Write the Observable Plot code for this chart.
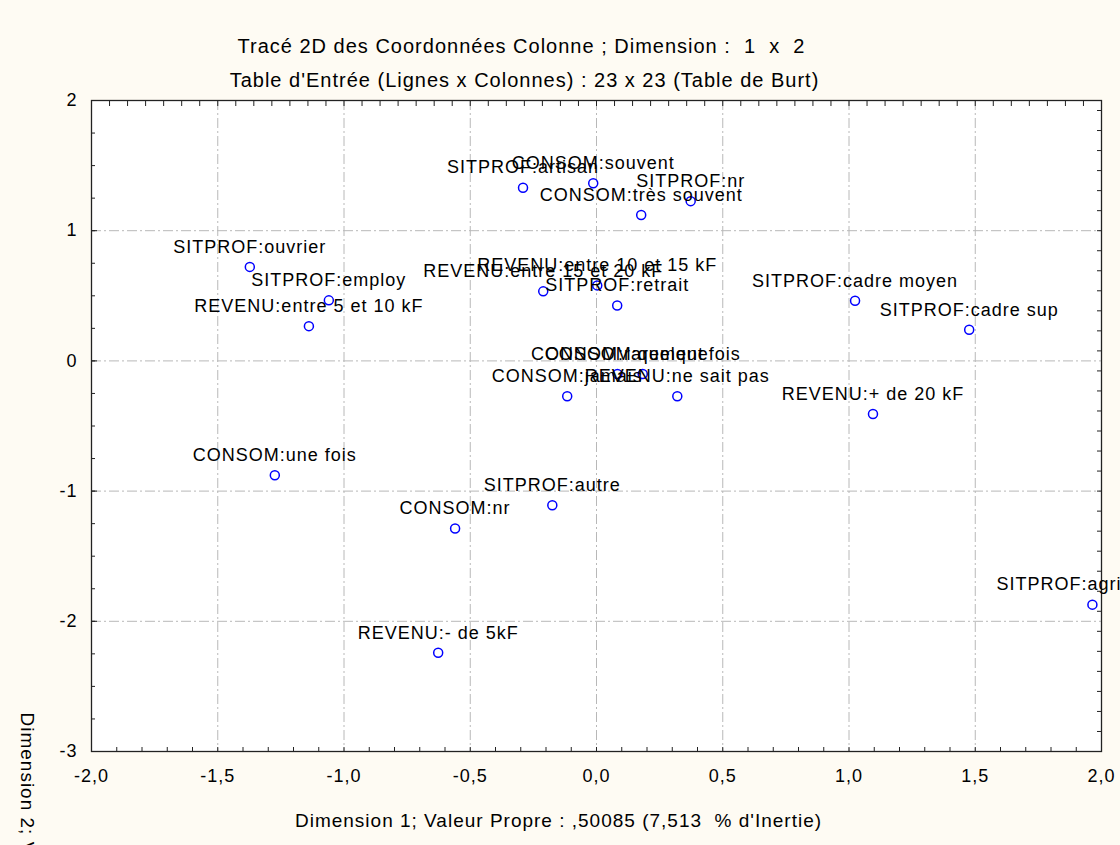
<!DOCTYPE html>
<html>
<head>
<meta charset="utf-8">
<script src="https://cdn.jsdelivr.net/npm/d3@7"></script>
<script src="https://cdn.jsdelivr.net/npm/@observablehq/plot@0.6"></script>
<style>
  html, body { margin: 0; padding: 0; background: #fefbf3; }
  #chart svg { display: block; }
</style>
</head>
<body>
<div id="chart"></div>
<script>
// ---- Data ----
const labels = [
  "SITPROF:artisan", "CONSOM:souvent", "SITPROF:nr", "CONSOM:très souvent",
  "SITPROF:ouvrier", "SITPROF:employ", "REVENU:entre 5 et 10 kF",
  "REVENU:entre 10 et 15 kF", "REVENU:entre 15 et 20 kF", "SITPROF:retrait",
  "SITPROF:cadre moyen", "SITPROF:cadre sup", "CONSOM:rarement", "CONSOM:quelquefois",
  "CONSOM:jamais", "REVENU:ne sait pas", "REVENU:+ de 20 kF", "CONSOM:une fois",
  "SITPROF:autre", "CONSOM:nr", "SITPROF:agri", "REVENU:- de 5kF"
];
const dim1 = [
  -0.291, -0.013, 0.373, 0.177,
  -1.373, -1.060, -1.139,
  0.003, -0.211, 0.082,
  1.024, 1.476, 0.083, 0.183,
  -0.116, 0.320, 1.095, -1.274,
  -0.175, -0.560, 1.964, -0.627
];
const dim2 = [
  1.330, 1.364, 1.227, 1.120,
  0.722, 0.465, 0.267,
  0.580, 0.534, 0.426,
  0.462, 0.239, -0.100, -0.100,
  -0.272, -0.272, -0.408, -0.878,
  -1.109, -1.287, -1.872, -2.242
];
const xTickValues = [-2, -1.5, -1, -0.5, 0, 0.5, 1, 1.5, 2];
const yTickValues = [-3, -2, -1, 0, 1, 2];
const xGridValues = [-1.5, -1, -0.5, 0, 0.5, 1, 1.5];
const yGridValues = [-2, -1, 0, 1];
const title1 = "Tracé 2D des Coordonnées Colonne ; Dimension :  1  x  2";
const title2 = "Table d'Entrée (Lignes x Colonnes) : 23 x 23 (Table de Burt)";
const xTitle = "Dimension 1; Valeur Propre : ,50085 (7,513  % d'Inertie)";
const yTitle = "Dimension 2; Valeur Propre : ,36042 (5,406  % d'Inertie)";
const edgeLabels = ["SITPROF:agri"];

const data = labels.map((label, i) => ({label, x: dim1[i], y: dim2[i]}));

const fmtX = d => d.toFixed(1).replace(".", ",");
const fmtY = d => String(d);
const blank = () => "";

const grid = {stroke: "#b8b8b8", strokeOpacity: 1, strokeWidth: 1, strokeDasharray: "10,3,2,3"};

const chart = Plot.plot({
  width: 1120,
  height: 845,
  marginLeft: 91,
  marginRight: 19,
  marginTop: 100,
  marginBottom: 94,
  x: {domain: [-2, 2]},
  y: {domain: [-3, 2]},
  style: {
    background: "#fefbf3",
    fontFamily: "'Liberation Sans', Arial, sans-serif",
    fontSize: "18px",
    color: "black",
    letterSpacing: "1px"
  },
  marks: [
    Plot.frame({fill: "white", stroke: null}),
    Plot.gridX(xGridValues, grid),
    Plot.gridY(yGridValues, grid),
    // minor inward ticks
    Plot.axisX(d3.range(-20, 21).map(d => d / 10), {anchor: "bottom", tickSize: -4, tickFormat: blank, label: null, stroke: "#222"}),
    Plot.axisX(d3.range(0, 57).map(k => -2 + k / 14), {anchor: "top", tickSize: -5, tickFormat: blank, label: null, stroke: "#222"}),
    Plot.axisY(d3.range(0, 21).map(k => -3 + k * 0.25), {anchor: "left", tickSize: -4, tickFormat: blank, label: null, stroke: "#222"}),
    Plot.axisY(yTickValues, {anchor: "left", tickSize: -6, tickFormat: blank, label: null, stroke: "#222"}),
    Plot.axisY(d3.range(0, 33).map(k => -3 + k * 2 / 13), {anchor: "right", tickSize: -5, tickFormat: blank, label: null, stroke: "#222"}),
    // labelled axes
    Plot.axisX(xTickValues, {anchor: "bottom", tickSize: 0, tickPadding: 18, tickFormat: fmtX, label: null, fontSize: 18}),
    Plot.axisY(yTickValues, {anchor: "left", tickSize: 0, tickPadding: 14, tickFormat: fmtY, label: null, fontSize: 18}),
    Plot.frame({stroke: "#222", strokeWidth: 1.3}),
    // points
    Plot.dot(data, {x: "x", y: "y", r: 4.5, stroke: "#0000ff", strokeWidth: 1.5, fill: "none"}),
    Plot.text(data.filter(d => !edgeLabels.includes(d.label)), {
      x: "x", y: "y", text: "label", dy: -20, textAnchor: "middle", fontSize: 18, fill: "black"
    }),
    Plot.text(data.filter(d => edgeLabels.includes(d.label)), {
      x: "x", y: "y", text: "label", dy: -20, dx: 29, textAnchor: "end", fontSize: 18, fill: "black"
    }),
    // titles
    Plot.text([title1], {frameAnchor: "top", dy: -62, dx: -75, fontSize: 20, fill: "black"}),
    Plot.text([title2], {frameAnchor: "top", dy: -28, dx: -72, fontSize: 20, fill: "black"}),
    Plot.text([xTitle], {frameAnchor: "bottom", dy: 75, dx: -38, fontSize: 19, fill: "black"}),
    Plot.text([yTitle], {frameAnchor: "bottom-left", dy: -39, dx: -71, rotate: 90, textAnchor: "start", fontSize: 19, fill: "black"})
  ]
});

document.getElementById("chart").appendChild(chart);
</script>
</body>
</html>
